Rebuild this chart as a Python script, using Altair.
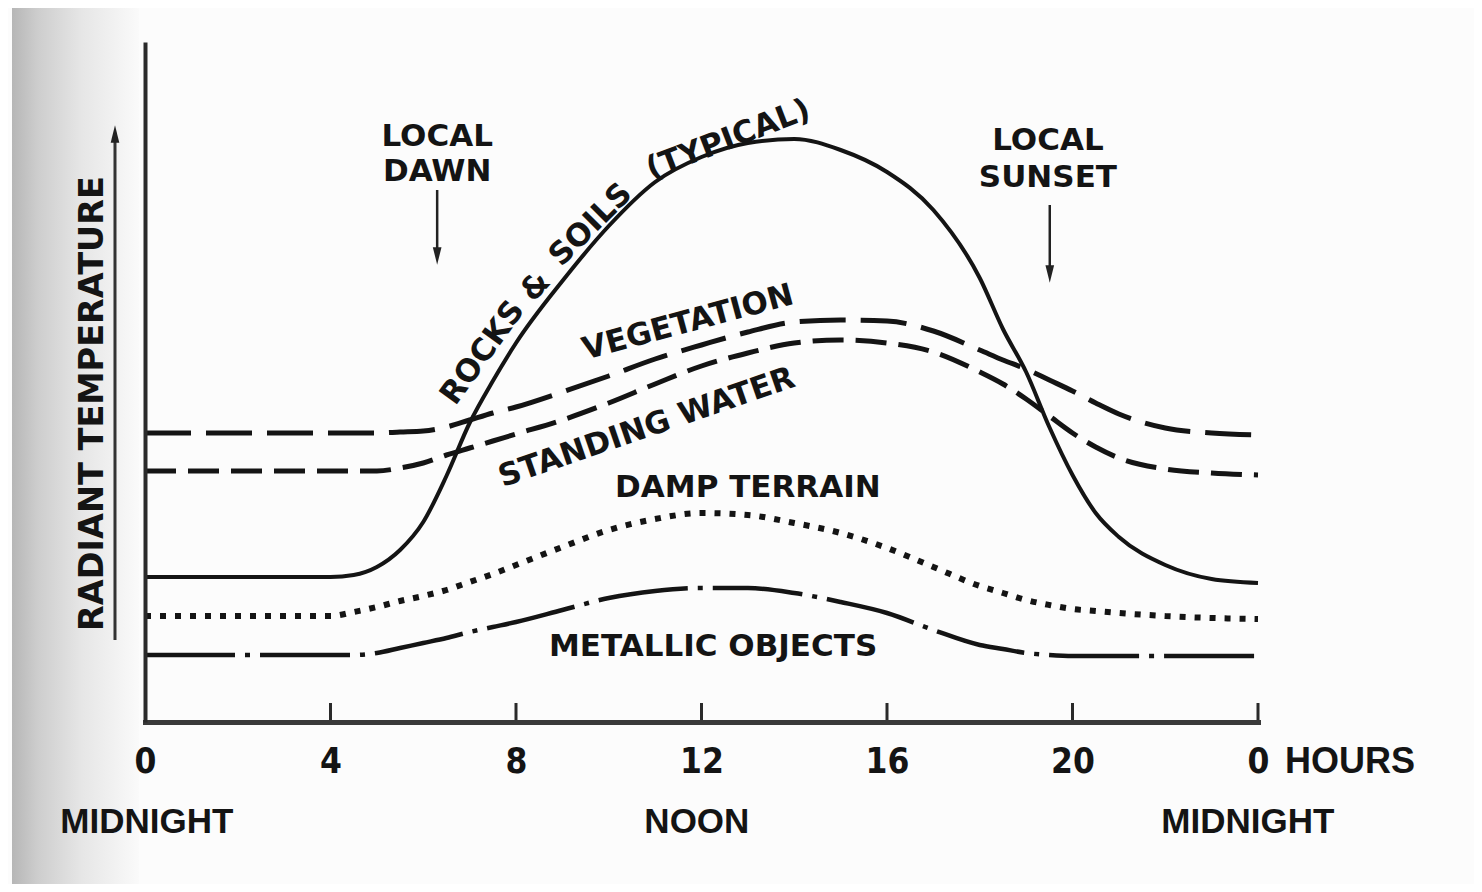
import altair as alt
import pandas as pd

# ---- data (relative radiant temperature, arbitrary units) ----
hours = [0, 1, 2, 3, 4, 4.5, 5, 5.5, 6, 6.5, 7, 7.5, 8, 9, 10, 11, 12, 13, 14, 15,
         16, 17, 18, 18.5, 19, 19.5, 20, 20.5, 21, 22, 23, 24]
rocks_soils = [145, 145, 145, 145, 145, 147, 155, 172, 200, 246, 299, 341, 379, 441, 496, 540,
               565, 579, 583, 572, 550, 512, 444, 393, 350, 295, 247, 209, 185, 157, 143, 139]
vegetation = [289, 289, 289, 289, 289, 289, 289, 290, 291, 295, 302, 309, 315, 330, 346, 363,
              377, 390, 400, 402, 401, 391, 372, 362, 353, 342, 331, 319, 308, 294, 289, 287]
standing_water = [251, 251, 251, 251, 251, 251, 251, 254, 259, 267, 274, 281, 288, 302, 319, 338,
                  356, 369, 379, 382, 379, 370, 350, 338, 323, 306, 289, 275, 264, 253, 249, 247]
damp_terrain = [106, 106, 106, 106, 106, 110, 115, 121, 126, 132, 140, 148, 157, 175, 192, 203,
                209, 207, 199, 189, 174, 155, 136, 129, 122, 117, 113, 111, 109, 106, 104, 103]
metallic = [67, 67, 67, 67, 67, 67, 69, 74, 79, 84, 90, 95, 100, 112, 124, 131,
            134, 134, 129, 120, 109, 92, 77, 73, 69, 67, 66, 66, 66, 66, 66, 66]

tick_hours = [0, 4, 8, 12, 16, 20, 24]
inner_ticks = [4, 8, 12, 16, 20, 24]

curve_labels = ["ROCKS", "&", "SOILS", "(TYPICAL)", "VEGETATION", "STANDING WATER",
                "DAMP TERRAIN", "METALLIC OBJECTS"]
curve_label_hours = [7.29, 8.43, 9.62, 12.58, 11.71, 10.82, 13.0, 12.25]
curve_label_values = [369, 435, 497, 582, 399, 294, 234, 75]
curve_label_angles = [306, 312, 315, 339, 345, 341, 0, 0]

event_labels = ["LOCAL", "DAWN", "LOCAL", "SUNSET"]
event_label_hours = [6.30, 6.30, 19.47, 19.47]
event_label_values = [585, 550, 581, 544]

event_arrow_hours = [6.30, 19.51]
event_arrow_from = [532, 517]
event_arrow_to = [466, 448]

time_labels = ["MIDNIGHT", "NOON", "MIDNIGHT"]
time_label_hours = [0.04, 11.9, 23.78]

# ---- scales / axes ----
xs = alt.Scale(domain=[0, 24], nice=False, zero=False)
ys = alt.Scale(domain=[0, 680], nice=False, zero=False)
INK = "#141414"
LABEL_FONT = "DejaVu Sans"
NUM_FONT = "Liberation Sans Narrow, DejaVu Sans Condensed, Liberation Sans"

xaxis = alt.Axis(values=tick_hours, format="d", title=None, grid=False, ticks=False,
                 domain=True, domainColor="#3a3a3a", domainWidth=5, domainCap="square",
                 labelExpr="datum.value == 24 ? '0' : datum.label",
                 labelFont=NUM_FONT, labelFontWeight="bold", labelFontSize=35,
                 labelColor=INK, labelPadding=22, labelBaseline="top", labelFlush=False,
                 zindex=1)
yaxis = alt.Axis(title="RADIANT TEMPERATURE", grid=False, ticks=False, labels=False,
                 domain=True, domainColor="#2a2a2a", domainWidth=4,
                 titleFont=LABEL_FONT, titleFontWeight="bold", titleFontSize=33.5,
                 titleColor=INK, titleAngle=270, titleX=-53, titleY=361,
                 titleAlign="center", titleBaseline="middle", zindex=1)


def X(f="hour"):
    return alt.X(f"{f}:Q", scale=xs, axis=xaxis)


def Y(f="value"):
    return alt.Y(f"{f}:Q", scale=ys, axis=yaxis)


# ---- paper shading on the left edge (decoration) ----
shade = alt.Chart(pd.DataFrame({"k": [0]})).mark_rect(
    color=alt.LinearGradient(
        gradient="linear", x1=0, x2=1, y1=0, y2=0,
        stops=[alt.GradientStop(color="#b6b6b6", offset=0),
               alt.GradientStop(color="#cdcdcd", offset=0.2),
               alt.GradientStop(color="#e6e6e6", offset=0.55),
               alt.GradientStop(color="#fafafa", offset=1)])
).encode(x=alt.value(-133), x2=alt.value(-6), y=alt.value(-37), y2=alt.value(843))


def curve(values, dash, width=4.2):
    df = pd.DataFrame({"hour": hours, "value": values})
    kw = dict(color=INK, strokeWidth=width, interpolate="monotone", strokeCap="butt")
    if dash:
        kw["strokeDash"] = dash
    return alt.Chart(df).mark_line(**kw).encode(x=X(), y=Y())


lines = [
    curve(rocks_soils, None, 4.0),
    curve(vegetation, [46, 15], 5),
    curve(standing_water, [31, 12], 5),
    curve(damp_terrain, [6, 9], 6),
    curve(metallic, [90, 10, 5, 10], 4.5),
]

ticks = alt.Chart(pd.DataFrame({"hour": inner_ticks, "value": [0] * len(inner_ticks),
                                "top": [19] * len(inner_ticks)})).mark_rule(
    color="#2a2a2a", strokeWidth=3).encode(x=X(), y=Y(), y2="top:Q")

curve_text = alt.Chart(pd.DataFrame({"hour": curve_label_hours, "value": curve_label_values,
                                     "label": curve_labels, "angle": curve_label_angles})).mark_text(
    font=LABEL_FONT, fontWeight="bold", fontSize=31, color=INK, align="center", baseline="middle"
).encode(x=X(), y=Y(), text="label:N", angle=alt.Angle("angle:Q", scale=None))

event_text = alt.Chart(pd.DataFrame({"hour": event_label_hours, "value": event_label_values,
                                     "label": event_labels})).mark_text(
    font=LABEL_FONT, fontWeight="bold", fontSize=31, color=INK, align="center", baseline="middle"
).encode(x=X(), y=Y(), text="label:N")

arrow_df = pd.DataFrame({"hour": event_arrow_hours, "value": event_arrow_from, "to": event_arrow_to})
event_arrows = alt.Chart(arrow_df).mark_rule(color="#222", strokeWidth=2.5).encode(
    x=X(), y=Y(), y2="to:Q")
event_heads = alt.Chart(arrow_df).mark_point(
    shape="M -0.5 -1 L 0.5 -1 L 0 1 Z", size=300, filled=True, color="#222", opacity=1
).encode(x=X(), y=Y("to"))

# arrow next to the y-axis title
yarrow_df = pd.DataFrame({"hour": [-0.647], "value": [82], "to": [588]})
y_arrow = alt.Chart(yarrow_df).mark_rule(color="#333", strokeWidth=3).encode(
    x=X(), y=Y(), y2="to:Q")
y_head = alt.Chart(yarrow_df).mark_point(
    shape="M -0.5 1 L 0.5 1 L 0 -1 Z", size=300, filled=True, color="#222", opacity=1
).encode(x=X(), y=Y("to"))

time_text = alt.Chart(pd.DataFrame({"hour": time_label_hours,
                                    "value": [-100] * len(time_labels),
                                    "label": time_labels})).mark_text(
    font="Liberation Sans", fontWeight="bold", fontSize=35, color=INK,
    align="center", baseline="middle"
).encode(x=X(), y=Y(), text="label:N")

hours_text = alt.Chart(pd.DataFrame({"hour": [24], "value": [-40], "label": ["HOURS"]})).mark_text(
    font="Liberation Sans", fontWeight="bold", fontSize=36, color=INK,
    align="left", baseline="middle", dx=27
).encode(x=X(), y=Y(), text="label:N")

chart = alt.layer(
    shade, *lines, ticks, curve_text, event_text, event_arrows, event_heads,
    y_arrow, y_head, time_text, hours_text
).properties(
    width=1113, height=680,
    padding={"left": 137, "top": 34, "right": 216, "bottom": 162},
    autosize=alt.AutoSizeParams(type="none"),
    background="#fcfcfc",
).configure_view(stroke=None)

chart.save("out.html", embed_options={"renderer": "svg", "actions": False})
